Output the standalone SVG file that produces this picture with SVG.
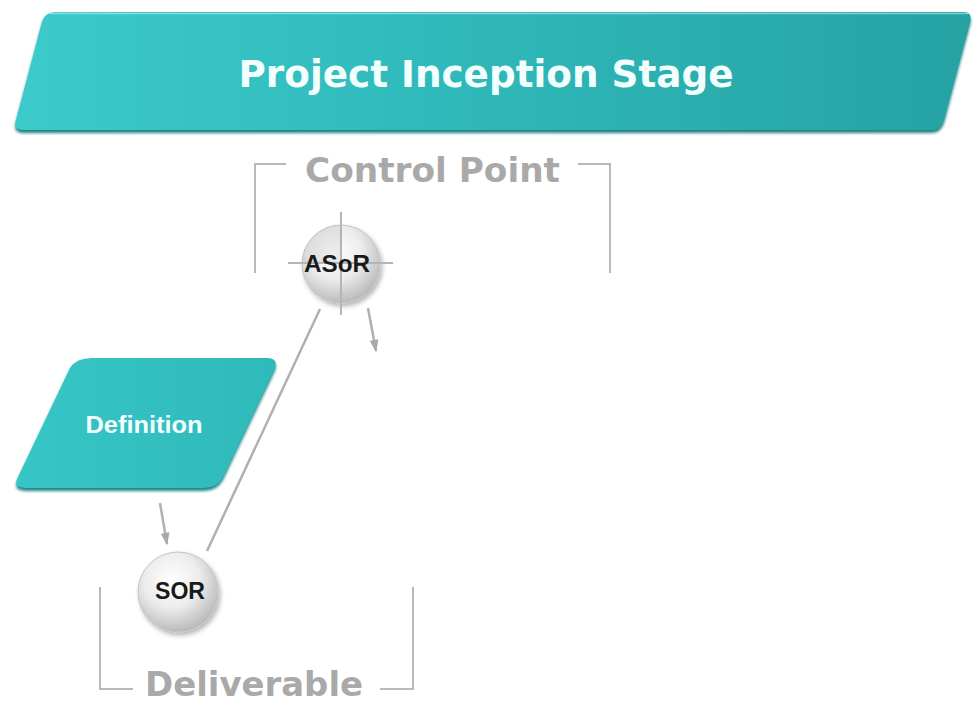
<svg xmlns="http://www.w3.org/2000/svg" width="973" height="705" viewBox="0 0 973 705">
  <style>
    .bracket { fill: none; stroke: #b9b9b9; stroke-width: 2; }
    .caption { font-family: "DejaVu Sans", Verdana, sans-serif; font-weight: bold; font-size: 34px; fill: #a9a9a9; }
    .conn { fill: none; stroke: #b0b0b0; stroke-width: 2.5; }
    .ball { fill: url(#ballFill); stroke: #c4c4c4; stroke-width: 1; filter: url(#ballShadow); }
    .ballText { font-family: "Liberation Sans", Arial, sans-serif; font-weight: bold; font-size: 23px; fill: #1a1a1a; text-anchor: middle; }
    .shapeText { font-family: "Liberation Sans", Arial, sans-serif; font-weight: bold; fill: #f4ffff; text-anchor: middle; }
  </style>
  <defs>
    <linearGradient id="bannerFill" x1="0" y1="0" x2="1" y2="0">
      <stop offset="0" stop-color="#3ccaca"/>
      <stop offset="0.5" stop-color="#2fb7b8"/>
      <stop offset="1" stop-color="#26a2a3"/>
    </linearGradient>
    <linearGradient id="defFill" x1="0" y1="0" x2="1" y2="0">
      <stop offset="0" stop-color="#37c5c5"/>
      <stop offset="1" stop-color="#2fbaba"/>
    </linearGradient>
    <radialGradient id="ballFill" cx="0.42" cy="0.35" r="0.7">
      <stop offset="0" stop-color="#ffffff"/>
      <stop offset="0.5" stop-color="#ececec"/>
      <stop offset="1" stop-color="#b3b3b3"/>
    </radialGradient>
    <filter id="ballShadow" x="-30%" y="-30%" width="160%" height="160%">
      <feGaussianBlur in="SourceAlpha" stdDeviation="2.5"/>
      <feOffset dx="2" dy="3" result="b"/>
      <feComponentTransfer><feFuncA type="linear" slope="0.3"/></feComponentTransfer>
      <feMerge><feMergeNode/><feMergeNode in="SourceGraphic"/></feMerge>
    </filter>
    <filter id="soft" x="-5%" y="-20%" width="110%" height="140%">
      <feGaussianBlur stdDeviation="1.5"/>
    </filter>
    <marker id="arrow" viewBox="0 0 10 10" refX="9" refY="5" markerWidth="5" markerHeight="5" orient="auto-start-reverse" markerUnits="strokeWidth">
      <path d="M0,1.5 L10,5 L0,8.5 Z" fill="#a8a8a8"/>
    </marker>
  </defs>

  <rect width="973" height="705" fill="#ffffff"/>

  <!-- stage banner -->
  <g id="stage-banner">
    <path d="M 55 15 L 963 15 Q 973 15 970 25 L 944 123 Q 941 133 931 133 L 23 133 Q 13 133 16 123 L 42 25 Q 45 15 55 15 Z" fill="#1c7f80" filter="url(#soft)"/>
    <path d="M 55 12 L 963 12 Q 973 12 970 22 L 944 120 Q 941 130 931 130 L 23 130 Q 13 130 16 120 L 42 22 Q 45 12 55 12 Z" fill="url(#bannerFill)"/>
    <path d="M 50 13.5 L 968 13.5" stroke="#bfeeee" stroke-width="1.5" opacity="0.6"/>
    <text x="486" y="87" font-family="'DejaVu Sans', Verdana, sans-serif" font-weight="bold" font-size="37" fill="#f3ffff" text-anchor="middle" textLength="495" lengthAdjust="spacingAndGlyphs">Project Inception Stage</text>
  </g>

  <!-- control point bracket -->
  <g id="control-point-label">
    <path class="bracket" d="M 255 273 L 255 164 L 286 164"/>
    <path class="bracket" d="M 578 164 L 610 164 L 610 273"/>
    <text class="caption" x="305" y="182" textLength="255" lengthAdjust="spacingAndGlyphs">Control Point</text>
  </g>

  <!-- deliverable bracket -->
  <g id="deliverable-label">
    <path class="bracket" d="M 100 587 L 100 689 L 133 689"/>
    <path class="bracket" d="M 380 689 L 413 689 L 413 587"/>
    <text class="caption" x="145" y="696" font-size="32" textLength="218" lengthAdjust="spacingAndGlyphs">Deliverable</text>
  </g>

  <!-- connectors -->
  <g id="connectors">
    <line class="conn" x1="207" y1="551" x2="320" y2="309"/>
    <line class="conn" x1="160" y1="503" x2="167" y2="544" marker-end="url(#arrow)"/>
    <line class="conn" x1="368" y1="308" x2="376" y2="351" marker-end="url(#arrow)"/>
  </g>

  <!-- definition process -->
  <g id="definition">
    <path d="M 92 361 L 266 361 Q 280 361 274 373 L 223 480 Q 217 491 204 491 L 26 491 Q 12 491 18 480 L 70 371 Q 76 361 92 361 Z" fill="#1f8686" filter="url(#soft)"/>
    <path d="M 92 358 L 266 358 Q 280 358 274 370 L 223 477 Q 217 488 204 488 L 26 488 Q 12 488 18 477 L 70 368 Q 76 358 92 358 Z" fill="url(#defFill)"/>
    <text class="shapeText" x="144" y="433" font-size="23" textLength="117" lengthAdjust="spacingAndGlyphs">Definition</text>
  </g>

  <!-- ASoR control point -->
  <g id="asor">
    <circle class="ball" cx="341" cy="264" r="39"/>
    <path d="M 341 264 L 302 264 A 39 39 0 0 1 341 225 Z" fill="#9a9a9a" opacity="0.18"/>
    <path d="M 341 212 L 341 315 M 288 263 L 393 263" stroke="#b5b5b5" stroke-width="2" fill="none"/>
    <text class="ballText" x="337" y="272" textLength="66" lengthAdjust="spacingAndGlyphs">ASoR</text>
  </g>

  <!-- SOR deliverable -->
  <g id="sor">
    <circle class="ball" cx="178" cy="592" r="40"/>
    <text class="ballText" x="180" y="599" textLength="50" lengthAdjust="spacingAndGlyphs">SOR</text>
  </g>
</svg>
